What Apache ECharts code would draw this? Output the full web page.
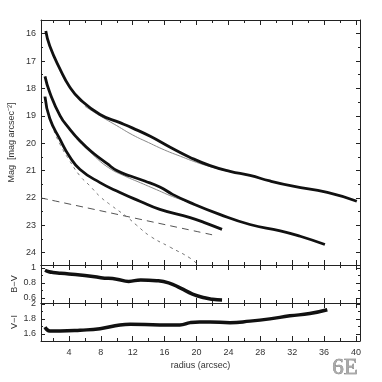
<!DOCTYPE html>
<html>
<head>
<meta charset="utf-8">
<script src="https://cdn.jsdelivr.net/npm/echarts@6/dist/echarts.min.js"></script>
<style>html,body{margin:0;padding:0;background:#fff}#c{width:382px;height:382px}</style>
</head>
<body>
<div id="c"></div>
<script>
// ---- Data ----
const xMajor = [4, 8, 12, 16, 20, 24, 28, 32, 36, 40];
const xMinor = [2, 6, 10, 14, 18, 22, 26, 30, 34, 38];
const magMajor = [16, 17, 18, 19, 20, 21, 22, 23, 24];
const magMinor = [16.5, 17.5, 18.5, 19.5, 20.5, 21.5, 22.5, 23.5];
const bvMajor = [0.6, 0.8, 1];
const bvMinor = [0.7, 0.9];
const viMajor = [1.6, 1.8, 2];
const viMinor = [1.7, 1.9];

// Profile 1 (top)
const r1 = [1.1, 1.6, 2.9, 4.1, 5.4, 7.9, 10.4, 12, 14.2, 16.7, 19.2, 21.7, 24.2, 26.7, 29.2, 32.1, 36.4, 40.1];
const m1 = [15.9, 16.45, 17.3, 17.95, 18.4, 18.95, 19.25, 19.45, 19.75, 20.15, 20.52, 20.82, 21.03, 21.18, 21.38, 21.57, 21.8, 22.12];
const rFit1 = [6, 8, 10, 12, 14, 16, 18, 20, 22, 24];
const mFit1 = [18.65, 19.02, 19.36, 19.7, 19.98, 20.25, 20.48, 20.7, 20.88, 21.03];
// Profile 2 (middle)
const r2 = [1.0, 1.6, 2.9, 4.0, 5.4, 7.0, 8.8, 10, 11.7, 13.5, 15.4, 17, 19.2, 22.9, 26.7, 30.5, 33, 36.1];
const m2 = [17.56, 18.15, 19.0, 19.45, 19.92, 20.35, 20.75, 21.0, 21.2, 21.38, 21.6, 21.87, 22.17, 22.6, 22.97, 23.2, 23.4, 23.7];
const rFit2 = [5, 7, 9, 11, 13, 15, 17, 19];
const mFit2 = [19.85, 20.42, 20.9, 21.2, 21.45, 21.7, 21.95, 22.15];
// Profile 3 (lower)
const r3 = [1.0, 1.6, 2.9, 4.0, 5.4, 7.9, 10.4, 12.9, 15.4, 19.2, 21, 23.2];
const m3 = [18.3, 19.1, 19.87, 20.45, 20.96, 21.44, 21.8, 22.12, 22.42, 22.72, 22.9, 23.15];
// Bulge component (short dashes)
const rBulge = [0.9, 1.5, 2, 3, 4, 5.4, 6.6, 7.9, 9.2, 11.3, 12.5, 14.2, 16.7, 19.2, 20.2];
const mBulge = [18.3, 18.95, 19.45, 20.1, 20.6, 21.2, 21.55, 21.95, 22.25, 22.7, 23.0, 23.4, 23.8, 24.2, 24.45];
// Disk component (long dashes)
const rDisk = [0.5, 22.5];
const mDisk = [22.0, 23.38];
// B-V colour profile
const rBV = [1.0, 1.5, 2, 3, 4, 6, 8, 10, 11.5, 13, 15, 16.5, 18, 19.5, 21, 22, 23.2];
const bv = [0.97, 0.95, 0.94, 0.93, 0.92, 0.9, 0.87, 0.85, 0.82, 0.84, 0.83, 0.8, 0.73, 0.65, 0.6, 0.58, 0.57];
// V-I colour profile
const rVI = [1.0, 1.6, 2.9, 5.4, 7.9, 10.4, 11.7, 15.4, 17.9, 19.2, 20.4, 21.7, 24.2, 26.7, 29.2, 31.7, 34.2, 36.4];
const vi = [1.69, 1.64, 1.64, 1.65, 1.67, 1.72, 1.73, 1.72, 1.72, 1.75, 1.76, 1.76, 1.75, 1.77, 1.8, 1.84, 1.87, 1.92];

const zip = (a, b) => a.map((v, i) => [v, b[i]]);

const FONT = 'Liberation Sans';
const AX = '#222';
const grids = [
  {left: 41, top: 20, width: 319, height: 245, outerBoundsMode: 'none', containLabel: false},
  {left: 41, top: 265, width: 319, height: 38, outerBoundsMode: 'none', containLabel: false},
  {left: 41, top: 303, width: 319, height: 38, outerBoundsMode: 'none', containLabel: false}
];

const xAxes = [];
function addX(gi, labels, name) {
  const base = {gridIndex: gi, type: 'value', min: 0.5, max: 40.5, splitLine: {show: false}};
  ['bottom', 'top'].forEach(pos => {
    xAxes.push(Object.assign({}, base, {
      position: pos,
      axisLine: {show: true, onZero: false, lineStyle: {color: AX, width: 1}},
      axisTick: {show: true, inside: true, length: 5, customValues: xMajor, lineStyle: {color: AX}},
      axisLabel: {show: labels && pos === 'bottom', customValues: xMajor, margin: 7,
        fontFamily: FONT, fontSize: 9, color: '#333'},
      name: (name && pos === 'bottom') ? name : '',
      nameLocation: 'middle', nameGap: 20, nameMoveOverlap: false,
      nameTextStyle: {fontFamily: FONT, fontSize: 9, color: '#333'}
    }));
    xAxes.push(Object.assign({}, base, {
      position: pos,
      axisLine: {show: false},
      axisTick: {show: true, inside: true, length: 3, customValues: xMinor, lineStyle: {color: AX}},
      axisLabel: {show: false}
    }));
  });
}
addX(0, false, null);
addX(1, false, null);
addX(2, true, 'radius (arcsec)');

const yAxes = [];
function addY(gi, min, max, inverse, major, minor, name, nameGap) {
  const base = {gridIndex: gi, type: 'value', min: min, max: max, inverse: inverse, splitLine: {show: false}};
  ['left', 'right'].forEach(pos => {
    yAxes.push(Object.assign({}, base, {
      position: pos,
      axisLine: {show: true, onZero: false, lineStyle: {color: AX, width: 1}},
      axisTick: {show: true, inside: true, length: 4, customValues: major, lineStyle: {color: AX}},
      axisLabel: {show: pos === 'left', customValues: major, margin: 5,
        fontFamily: FONT, fontSize: 9, color: '#333'},
      name: pos === 'left' ? name : '',
      nameLocation: 'middle', nameGap: nameGap, nameRotate: 90, nameMoveOverlap: false,
      nameTextStyle: {fontFamily: FONT, fontSize: 9, color: '#333'}
    }));
    yAxes.push(Object.assign({}, base, {
      position: pos,
      axisLine: {show: false},
      axisTick: {show: true, inside: true, length: 2, customValues: minor, lineStyle: {color: AX}},
      axisLabel: {show: false}
    }));
  });
}
addY(0, 15.5, 24.45, true, magMajor, magMinor, 'Mag  [mag arcsec\u207B\u00B2]', 25);
addY(1, 0.53, 1.04, false, bvMajor, bvMinor, 'B\u2212V', 22);
addY(2, 1.507, 2.01, false, viMajor, viMinor, 'V\u2212I', 22);

function line(data, gi, style, z) {
  return {
    type: 'line', xAxisIndex: gi * 4, yAxisIndex: gi * 4, data: data,
    showSymbol: false, smooth: 0.5, lineStyle: style, z: z || 2, silent: true,
    clip: true
  };
}
const thick = {color: '#111', width: 2.8};
const thin = {color: '#888', width: 1};

const series = [
  line(zip(rDisk, mDisk), 0, {color: '#555', width: 1, type: [7, 5]}),
  line(zip(rBulge, mBulge), 0, {color: '#777', width: 1, type: [3, 4]}),
  line(zip(rFit1, mFit1), 0, thin, 1),
  line(zip(rFit2, mFit2), 0, thin, 1),
  line(zip(r1, m1), 0, thick, 3),
  line(zip(r2, m2), 0, thick, 3),
  line(zip(r3, m3), 0, thick, 3),
  line(zip(rBV, bv), 1, {color: '#111', width: 3.5}, 3),
  line(zip(rVI, vi), 2, {color: '#111', width: 3.5}, 3)
];

const chart = echarts.init(document.getElementById('c'), null, {renderer: 'canvas'});
chart.setOption({
  backgroundColor: '#fff',
  animation: false,
  grid: grids,
  xAxis: xAxes,
  yAxis: yAxes,
  series: series,
  graphic: [{
    type: 'text', right: 24, top: 356,
    style: {text: '6E', font: '23px "Liberation Serif"', fill: '#aaa', stroke: '#666', lineWidth: 0.6}
  }]
});
</script>
</body>
</html>
